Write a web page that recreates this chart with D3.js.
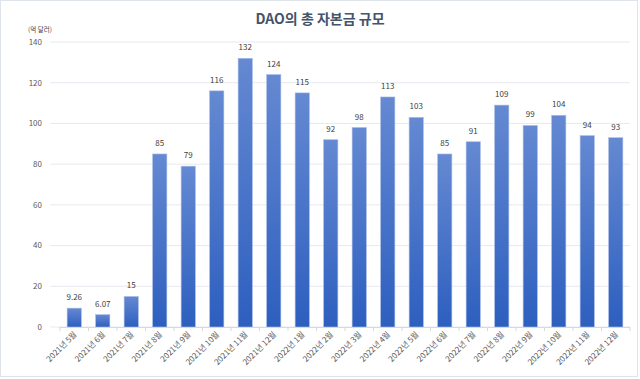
<!DOCTYPE html>
<html>
<head>
<meta charset="utf-8">
<script src="https://cdn.jsdelivr.net/npm/d3@7"></script>
<style>
  body { margin: 0; background: #fff; }
  svg { display: block; font-family: "Noto Sans CJK KR", "Noto Sans", sans-serif; }
</style>
</head>
<body>
<script>
var months = ["2021년 5월","2021년 6월","2021년 7월","2021년 8월","2021년 9월","2021년 10월",
  "2021년 11월","2021년 12월","2022년 1월","2022년 2월","2022년 3월","2022년 4월","2022년 5월",
  "2022년 6월","2022년 7월","2022년 8월","2022년 9월","2022년 10월","2022년 11월","2022년 12월"];
var capital = [9.26, 6.07, 15, 85, 79, 116, 132, 124, 115, 92, 98, 113, 103, 85, 91, 109, 99, 104, 94, 93];
var yTicks = [0, 20, 40, 60, 80, 100, 120, 140];

var W = 640, H = 379;
var m = {left: 60, right: 10, top: 42, bottom: 52};

var svg = d3.select("body").append("svg").attr("width", W).attr("height", H);

svg.append("rect").attr("x", 0.5).attr("y", 0.5).attr("width", W - 3).attr("height", H - 3)
  .attr("fill", "#fff").attr("stroke", "#dfe3ea");

var defs = svg.append("defs");
var grad = defs.append("linearGradient").attr("id", "barGrad")
  .attr("x1", 0).attr("y1", 0).attr("x2", 0).attr("y2", 1);
grad.append("stop").attr("offset", "0%").attr("stop-color", "#6589d2");
grad.append("stop").attr("offset", "100%").attr("stop-color", "#2d5fbf");

var x = d3.scaleBand().domain(months).range([m.left, W - m.right]).paddingInner(0.5).paddingOuter(0.25);
var y = d3.scaleLinear().domain([0, 140]).range([H - m.bottom, m.top]);

// grid
svg.append("g").selectAll("line").data(yTicks).join("line")
  .attr("x1", m.left - 10).attr("x2", W - m.right)
  .attr("y1", d => y(d)).attr("y2", d => y(d))
  .attr("stroke", "#e6e9ef").attr("stroke-width", 1);

// y labels
svg.append("g").selectAll("text").data(yTicks).join("text")
  .attr("x", 42).attr("y", d => y(d)).attr("dy", "0.35em")
  .attr("text-anchor", "end").attr("font-size", 8).attr("fill", "#595959")
  .text(d => d);

svg.append("text").attr("x", 40).attr("y", 32).attr("text-anchor", "middle")
  .attr("font-size", 6.5).attr("fill", "#404040").text("(억 달러)");

// title
svg.append("text").attr("x", W / 2).attr("y", 24).attr("text-anchor", "middle")
  .attr("font-size", 14).attr("font-weight", "bold").attr("fill", "#44546a")
  .text("DAO의 총 자본금 규모");

// bars
svg.append("g").selectAll("rect").data(capital).join("rect")
  .attr("x", (d, i) => x(months[i])).attr("width", x.bandwidth())
  .attr("y", d => y(d)).attr("height", d => y(0) - y(d))
  .attr("fill", "url(#barGrad)").attr("stroke", "#a9bde6").attr("stroke-width", 0.6);

// value labels
svg.append("g").selectAll("text").data(capital).join("text")
  .attr("x", (d, i) => x(months[i]) + x.bandwidth() / 2).attr("y", d => y(d) - 8)
  .attr("text-anchor", "middle").attr("font-size", 8).attr("fill", "#404040")
  .text(d => d);

// x axis line and ticks
var ax = svg.append("g");
ax.append("line").attr("x1", m.left).attr("x2", W - m.right)
  .attr("y1", y(0) + 0.5).attr("y2", y(0) + 0.5).attr("stroke", "#d9d9d9");
var step = x.step();
ax.selectAll("line.tk").data(d3.range(months.length + 1)).join("line").attr("class", "tk")
  .attr("x1", i => x(months[0]) - step * 0.25 + i * step).attr("x2", i => x(months[0]) - step * 0.25 + i * step)
  .attr("y1", y(0)).attr("y2", y(0) + 4).attr("stroke", "#d9d9d9");

ax.selectAll("text").data(months).join("text")
  .attr("transform", d => "translate(" + (x(d) + x.bandwidth() / 2 + 3) + "," + (y(0) + 8) + ") rotate(-45)")
  .attr("text-anchor", "end").attr("font-size", 8).attr("fill", "#595959")
  .text(d => d);
</script>
</body>
</html>
